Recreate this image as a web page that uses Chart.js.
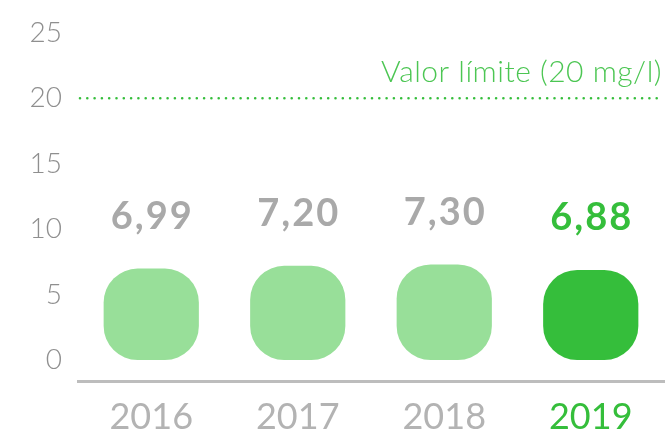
<!DOCTYPE html>
<html lang="es">
<head>
<meta charset="UTF-8">
<title>Valor límite</title>
<style>
  * { margin: 0; padding: 0; }
  body { background: #fff; }
  #wrap { width: 670px; height: 439px; }
</style>
</head>
<body>
<div id="wrap"><canvas id="chart" width="670" height="439"></canvas></div>
<script src="https://cdn.jsdelivr.net/npm/chart.js"></script>
<script>
// datos
const years = ['2016', '2017', '2018', '2019'];
const values = [6.99, 7.20, 7.30, 6.88];
const yTicks = [0, 5, 10, 15, 20, 25];
const limitValue = 20;
const limitLabel = 'Valor límite (20 mg/l)';

const GREEN = '#35be3b';
const LIGHT_GREEN = '#98df99';
const GREY = '#a9a9a9';

function fmt(v) {
    return v.toFixed(2).replace('.', ',');
}

// linea punteada del valor limite + texto
const limitLine = {
    id: 'limitLine',
    afterDatasetsDraw(chart) {
        const { ctx, chartArea, scales } = chart;
        const y = scales.y.getPixelForValue(limitValue);
        ctx.save();
        ctx.strokeStyle = GREEN;
        ctx.lineWidth = 2.6;
        ctx.lineCap = 'round';
        ctx.setLineDash([0, 7.3]);
        ctx.beginPath();
        ctx.moveTo(chartArea.left + 2, y);
        ctx.lineTo(chartArea.right - 2, y);
        ctx.stroke();
        ctx.setLineDash([]);
        ctx.fillStyle = '#4cc653';
        ctx.font = '300 30px Lato';
        ctx.letterSpacing = '0.5px';
        ctx.textAlign = 'right';
        ctx.textBaseline = 'alphabetic';
        ctx.fillText(limitLabel, chartArea.right - 2, y - 16);
        ctx.restore();
    }
};

// valores encima de cada barra
const valueLabels = {
    id: 'valueLabels',
    afterDatasetsDraw(chart) {
        const { ctx } = chart;
        const meta = chart.getDatasetMeta(0);
        ctx.save();
        ctx.font = 'bold 38px Lato';
        ctx.letterSpacing = '2px';
        ctx.textAlign = 'center';
        ctx.textBaseline = 'middle';
        meta.data.forEach((bar, i) => {
            ctx.fillStyle = i === values.length - 1 ? GREEN : GREY;
            ctx.fillText(fmt(values[i]), bar.x + 1, bar.y - 52);
        });
        ctx.restore();
    }
};

new Chart(document.getElementById('chart'), {
    type: 'bar',
    data: {
        labels: years,
        datasets: [{
            data: values,
            backgroundColor: values.map((v, i) => i === values.length - 1 ? GREEN : LIGHT_GREEN),
            borderRadius: 34,
            borderSkipped: false,
            barPercentage: 0.65,
            categoryPercentage: 1
        }]
    },
    options: {
        responsive: false,
        devicePixelRatio: 1,
        animation: false,
        layout: { padding: { top: 11, right: 6, left: 0, bottom: 0 } },
        plugins: {
            legend: { display: false },
            tooltip: { enabled: false }
        },
        scales: {
            x: {
                grid: { display: false, drawTicks: false },
                border: { display: true, color: '#bdbdbd', width: 3 },
                ticks: {
                    padding: 15,
                    color: ctx => ctx.index === years.length - 1 ? GREEN : '#b3b3b3',
                    font: { family: 'Lato', size: 36 }
                },
                afterFit: s => { s.height = 58; }
            },
            y: {
                min: -1.6,
                max: 25,
                grid: { display: false, drawTicks: false },
                border: { display: false },
                ticks: {
                    padding: 16,
                    color: '#8f8f8f',
                    font: { family: 'Lato', size: 28, weight: '300' }
                },
                afterBuildTicks: s => { s.ticks = yTicks.map(v => ({ value: v })); },
                afterFit: s => { s.width = 78; }
            }
        }
    },
    plugins: [limitLine, valueLabels]
});
</script>
</body>
</html>
